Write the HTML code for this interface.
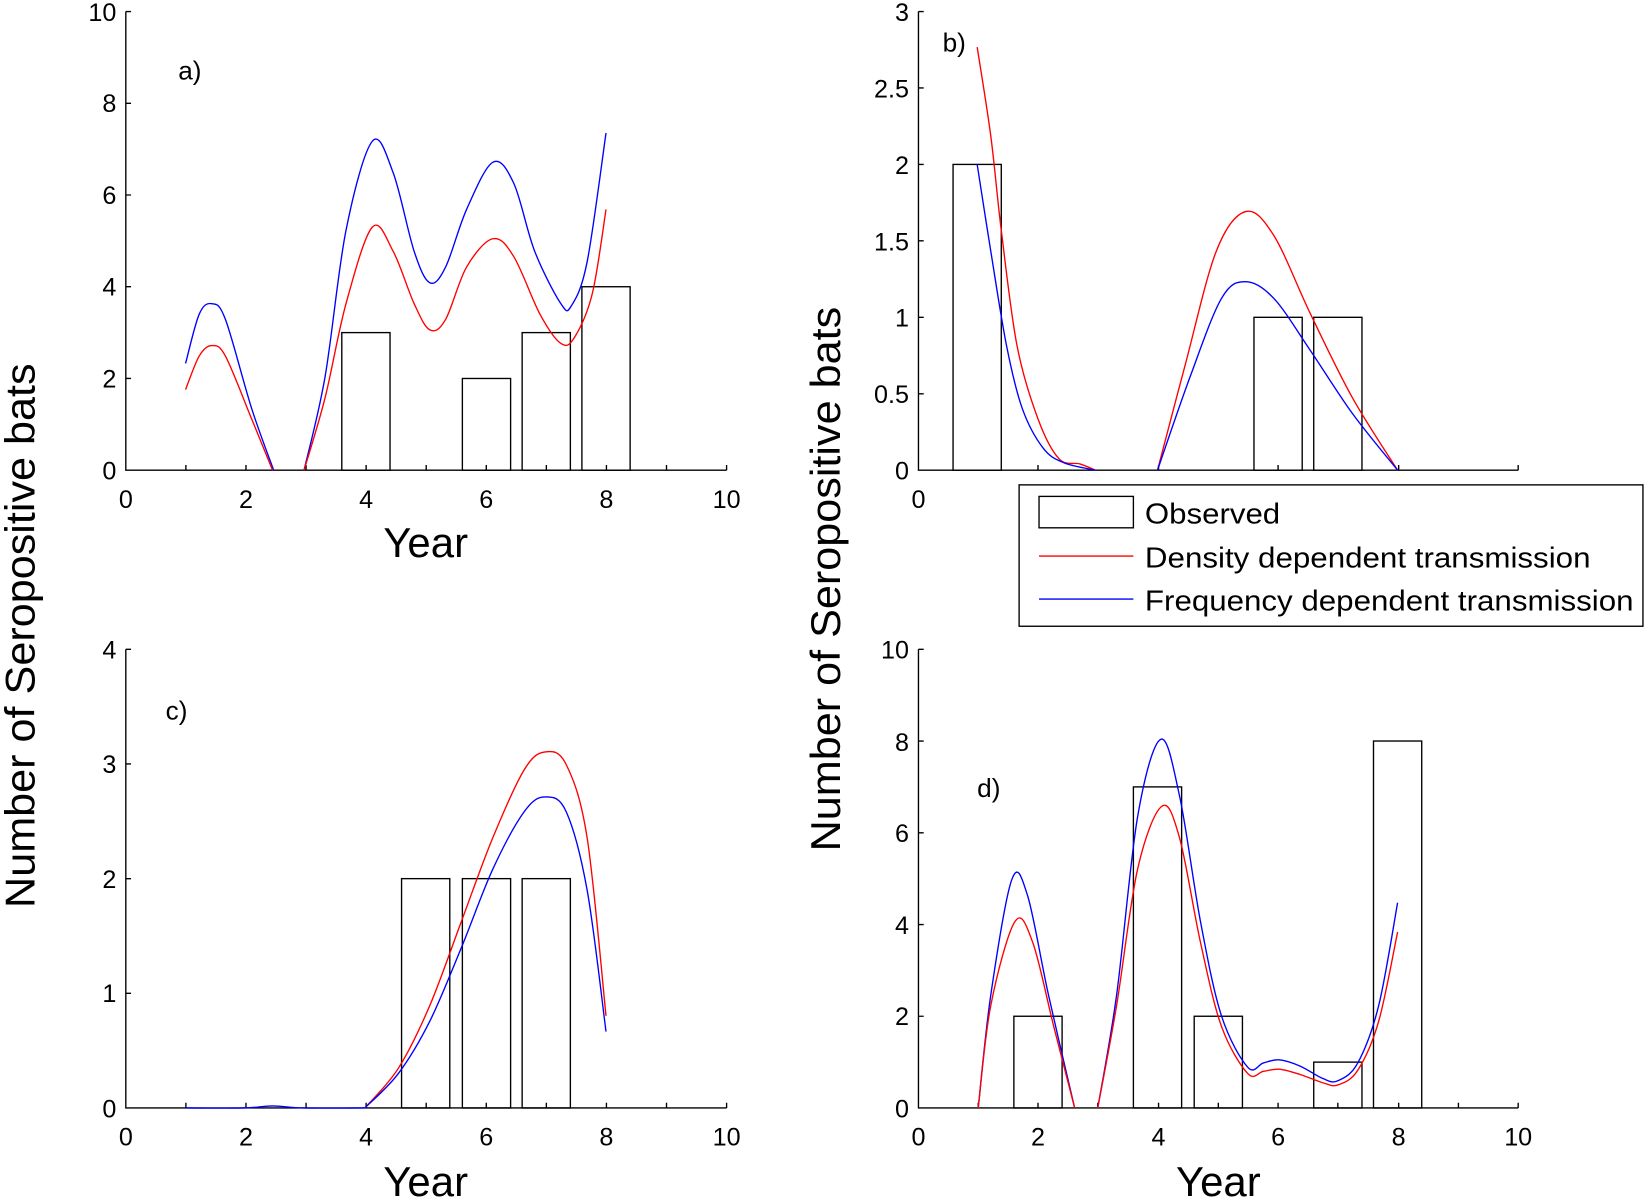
<!DOCTYPE html>
<html><head><meta charset="utf-8"><style>
html,body{margin:0;padding:0;background:#fff;}
svg{display:block;}
text{font-family:"Liberation Sans",Arial,sans-serif;fill:#000;}
</style></head><body>
<svg id="s" width="1644" height="1197" viewBox="0 0 1568 1143" preserveAspectRatio="none" xmlns="http://www.w3.org/2000/svg">
<g stroke="#000" stroke-width="1.3" fill="none">
<path d="M120,11V449H693"/>
<path d="M120,11h5M120,98.6h5M120,186.2h5M120,273.8h5M120,361.4h5M177.3,449v-5M234.6,449v-5M291.9,449v-5M349.2,449v-5M406.5,449v-5M463.8,449v-5M521.1,449v-5M578.4,449v-5M635.7,449v-5M693,449v-5"/>
<path d="M876,11V449H1448"/>
<path d="M876,11h5M876,84h5M876,157h5M876,230h5M876,303h5M876,376h5M990,449v-5M1105,449v-5M1219,449v-5M1334,449v-5M1448,449v-5"/>
<path d="M120,620V1058H693"/>
<path d="M120,620h5M120,729.5h5M120,839h5M120,948.5h5M177.3,1058v-5M234.6,1058v-5M291.9,1058v-5M349.2,1058v-5M406.5,1058v-5M463.8,1058v-5M521.1,1058v-5M578.4,1058v-5M635.7,1058v-5M693,1058v-5"/>
<path d="M876,620V1058H1448"/>
<path d="M876,620h5M876,707.6h5M876,795.2h5M876,882.8h5M876,970.4h5M933,1058v-5M990,1058v-5M1047,1058v-5M1105,1058v-5M1162,1058v-5M1219,1058v-5M1276,1058v-5M1334,1058v-5M1391,1058v-5M1448,1058v-5"/>
<rect x="326" y="317.6" width="46" height="131.4"/>
<rect x="441" y="361.4" width="46" height="87.6"/>
<rect x="498" y="317.6" width="46" height="131.4"/>
<rect x="555" y="273.8" width="46" height="175.2"/>
<rect x="909" y="157" width="46" height="292"/>
<rect x="1196" y="303" width="46" height="146"/>
<rect x="1253" y="303" width="46" height="146"/>
<rect x="383" y="839" width="46" height="219"/>
<rect x="441" y="839" width="46" height="219"/>
<rect x="498" y="839" width="46" height="219"/>
<rect x="967" y="970.4" width="46" height="87.6"/>
<rect x="1081" y="751.4" width="46" height="306.6"/>
<rect x="1139" y="970.4" width="46" height="87.6"/>
<rect x="1253" y="1014.2" width="46" height="43.8"/>
<rect x="1310" y="707.6" width="46" height="350.4"/>
</g>
<g id="curves" fill="none" stroke-width="1.3"></g>
<rect x="972" y="463" width="595" height="135" fill="#fff" stroke="#000" stroke-width="1.3"/>
<rect x="991" y="474" width="90" height="30" fill="none" stroke="#000" stroke-width="1.3"/>
<line x1="991" y1="531" x2="1081" y2="531" stroke="#f00" stroke-width="1.3"/>
<line x1="991" y1="572" x2="1081" y2="572" stroke="#00f" stroke-width="1.3"/>
<g font-size="27">
<text x="1092" y="500" textLength="129" lengthAdjust="spacingAndGlyphs">Observed</text>
<text x="1092" y="542" textLength="425" lengthAdjust="spacingAndGlyphs">Density dependent transmission</text>
<text x="1092" y="583" textLength="466" lengthAdjust="spacingAndGlyphs">Frequency dependent transmission</text>
</g>
<g font-size="24" text-anchor="end">
<text x="111" y="20">10</text><text x="111" y="107">8</text><text x="111" y="195">6</text><text x="111" y="282">4</text><text x="111" y="370">2</text><text x="111" y="458">0</text>
<text x="867" y="20">3</text><text x="867" y="93">2.5</text><text x="867" y="166">2</text><text x="867" y="239">1.5</text><text x="867" y="312">1</text><text x="867" y="385">0.5</text><text x="867" y="458">0</text>
<text x="111" y="629">4</text><text x="111" y="738">3</text><text x="111" y="848">2</text><text x="111" y="957">1</text><text x="111" y="1067">0</text>
<text x="867" y="629">10</text><text x="867" y="717">8</text><text x="867" y="804">6</text><text x="867" y="892">4</text><text x="867" y="979">2</text><text x="867" y="1067">0</text>
</g>
<g font-size="24" text-anchor="middle">
<text x="120" y="485">0</text><text x="234.6" y="485">2</text><text x="349.2" y="485">4</text><text x="463.8" y="485">6</text><text x="578.4" y="485">8</text><text x="693" y="485">10</text>
<text x="876" y="485">0</text>
<text x="120" y="1094">0</text><text x="234.6" y="1094">2</text><text x="349.2" y="1094">4</text><text x="463.8" y="1094">6</text><text x="578.4" y="1094">8</text><text x="693" y="1094">10</text>
<text x="876" y="1094">0</text><text x="990" y="1094">2</text><text x="1105" y="1094">4</text><text x="1219" y="1094">6</text><text x="1334" y="1094">8</text><text x="1448" y="1094">10</text>
</g>
<g font-size="40" text-anchor="middle">
<text x="406" y="532">Year</text>
<text x="406" y="1142">Year</text>
<text x="1162" y="1142">Year</text>
<text transform="translate(33,607) rotate(-90)" textLength="520" lengthAdjust="spacingAndGlyphs">Number of Seropositive bats</text>
<text transform="translate(801,553) rotate(-90)" textLength="520" lengthAdjust="spacingAndGlyphs">Number of Seropositive bats</text>
</g>
<g font-size="25">
<text x="170" y="76">a)</text>
<text x="899" y="49">b)</text>
<text x="158" y="687">c)</text>
<text x="932" y="761">d)</text>
</g>
</svg>
<script>
const C=[
["#00f",[[177,347],[190,300],[202,290],[215,305],[240,390],[261,449]]],
["#00f",[[290,449],[310,360],[330,220],[355,135],[375,165],[395,240],[410,270],[425,255],[445,200],[470,155],[490,175],[510,240],[535,290],[545,292],[560,250],[578,127]]],
["#f00",[[177,372],[190,340],[202,330],[215,340],[240,400],[260,449]]],
["#f00",[[290,449],[310,380],[330,290],[355,217],[375,240],[395,290],[410,315],[425,305],[445,255],[470,228],[490,245],[515,300],[535,328],[548,322],[565,280],[578,200]]],
["#f00",[[932,45],[945,130],[955,220],[970,330],[990,400],[1010,438],[1030,443],[1045,449]]],
["#f00",[[1104,449],[1130,350],[1160,240],[1188,202],[1215,225],[1250,300],[1290,380],[1333,449]]],
["#00f",[[932,157],[945,240],[960,330],[975,390],[995,428],[1015,442],[1045,449]]],
["#00f",[[1104,449],[1135,360],[1165,285],[1188,269],[1215,285],[1250,335],[1290,395],[1333,449]]],
["#00f",[[177,1058],[233,1058],[260,1056],[290,1058],[348,1058]]],
["#f00",[[348,1058],[380,1020],[410,960],[440,880],[470,800],[500,735],[520,718],[540,730],[560,800],[578,970]]],
["#00f",[[348,1058],[380,1025],[410,975],[440,905],[470,830],[500,775],[520,761],[540,775],[560,850],[578,985]]],
["#00f",[[933,1058],[945,950],[965,840],[980,855],[1000,950],[1025,1058]]],
["#00f",[[1047,1058],[1065,950],[1085,780],[1107,706],[1125,760],[1145,880],[1165,970],[1190,1019],[1205,1015],[1220,1012],[1240,1018],[1262,1030],[1276,1032],[1295,1015],[1315,960],[1333,862]]],
["#f00",[[933,1058],[945,960],[968,880],[985,900],[1005,980],[1025,1058]]],
["#f00",[[1047,1058],[1065,960],[1085,830],[1108,770],[1125,800],[1145,900],[1165,980],[1190,1025],[1205,1023],[1220,1021],[1240,1026],[1262,1034],[1276,1036],[1295,1022],[1315,975],[1333,890]]]
];
const g=document.getElementById('curves');
for(const [c,p] of C){
 let d='M'+p[0][0]+','+p[0][1];
 for(let i=0;i<p.length-1;i++){
  const p0=p[i-1]||p[i],p1=p[i],p2=p[i+1],p3=p[i+2]||p2;
  const c1=[p1[0]+(p2[0]-p0[0])/6,p1[1]+(p2[1]-p0[1])/6];
  const c2=[p2[0]-(p3[0]-p1[0])/6,p2[1]-(p3[1]-p1[1])/6];
  d+='C'+c1+' '+c2+' '+p2;
 }
 const e=document.createElementNS('http://www.w3.org/2000/svg','path');
 e.setAttribute('d',d);e.setAttribute('stroke',c);g.appendChild(e);
}
</script>
</body></html>
